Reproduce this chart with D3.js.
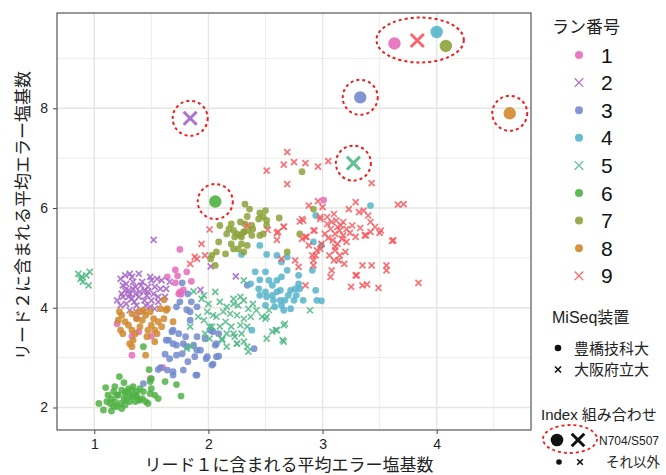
<!DOCTYPE html>
<html><head><meta charset="utf-8">
<script src="https://cdn.jsdelivr.net/npm/d3@7"></script>
<style>
body{margin:0;background:#fff;}
text{font-family:"Liberation Sans","Noto Sans CJK JP",sans-serif;}
.jp{font-family:"Noto Sans CJK JP","Liberation Sans",sans-serif;}
</style></head>
<body>
<svg id="c" width="666" height="475"></svg>
<script>
// ---------- data ----------
const runLabels = ["1","2","3","4","5","6","7","8","9"];
const runColors = ["#e56bbd","#a463c6","#7289cc","#55b4c9","#4fb985","#50b144","#8da23a","#d0882e","#f8575d"];
const runShapes = ["dot","x","dot","dot","x","dot","dot","dot","x"]; // MiSeq device
const xTicks = [1,2,3,4];
const yTicks = [2,4,6,8];
const deviceLabels = ["豊橋技科大","大阪府立大"];
const indexLabels = ["N704/S507","それ以外"];

const run1 = [[1.75,5.17],[1.71,4.76],[1.73,4.64],[1.81,4.72],[1.85,4.53],[1.71,4.50],[1.75,4.32],[1.78,4.36],[1.76,4.27],[1.74,4.28],[1.20,3.68],[1.33,3.43],[1.39,3.52],[1.50,3.43],[1.33,3.05],[1.60,2.80],[1.49,2.58],[1.37,3.80],[3.01,6.16],[1.64,4.62]];
const run2 = [[1.23,4.58],[1.31,4.68],[1.39,4.68],[1.25,4.45],[1.20,4.15],[1.24,4.28],[1.30,4.35],[1.36,4.42],[1.40,4.32],[1.33,4.18],[1.28,4.08],[1.37,4.05],[1.44,4.15],[1.47,4.42],[1.50,4.55],[1.55,4.58],[1.59,4.55],[1.58,4.38],[1.52,4.28],[1.49,4.02],[1.56,4.12],[1.62,4.22],[1.66,4.52],[1.31,3.95],[1.43,3.92],[1.34,4.52],[1.42,4.52],[1.46,4.25],[1.39,4.22],[1.25,4.22],[1.23,4.05],[1.30,4.22],[1.36,4.28],[1.53,4.42],[1.56,4.22],[1.44,4.35],[1.31,4.28],[1.37,3.92],[1.50,4.15],[1.53,3.98],[1.63,4.38],[1.49,4.62],[1.27,4.65],[1.52,5.36],[1.93,4.36],[2.02,4.83],[2.24,4.63],[1.28,4.48],[1.34,4.38],[1.41,4.45],[1.47,4.32],[1.35,4.12],[1.27,4.35],[1.45,4.05],[1.33,4.62]];
const run3 = [[1.63,3.35],[1.68,3.52],[1.69,3.28],[1.72,3.25],[1.62,3.07],[1.66,2.98],[1.72,3.05],[1.77,3.08],[1.81,3.22],[1.82,2.92],[1.88,3.02],[1.90,3.15],[1.78,2.75],[1.69,2.72],[1.69,2.65],[1.56,2.76],[1.58,2.80],[1.89,2.65],[1.98,2.98],[2.04,2.87],[1.43,2.48],[1.72,4.02],[1.75,4.12],[1.77,4.50],[1.82,4.28],[1.85,4.12],[1.84,3.92],[1.90,4.02],[1.69,3.55],[1.74,3.48],[1.80,3.42],[1.65,3.35],[1.78,3.28],[1.81,3.96],[1.84,3.75],[1.99,3.02],[2.03,2.85],[2.09,3.03],[2.07,3.28],[1.93,3.15],[1.87,3.25],[1.90,3.42],[1.97,3.38],[2.02,3.55],[2.09,3.48],[2.40,3.18],[2.34,4.45],[2.04,3.52],[2.06,3.25],[2.07,3.02],[1.64,2.75],[1.90,2.65]];
const run4 = [[2.29,5.07],[2.41,4.72],[2.45,4.56],[2.50,4.72],[2.53,4.55],[2.37,4.48],[2.44,4.38],[2.50,4.32],[2.56,4.45],[2.60,4.55],[2.64,4.62],[2.69,4.75],[2.60,5.05],[2.69,5.02],[2.64,4.92],[2.45,4.25],[2.51,4.22],[2.56,4.25],[2.57,4.15],[2.63,4.15],[2.64,4.05],[2.67,4.15],[2.70,4.25],[2.72,4.35],[2.63,4.35],[2.60,4.32],[2.76,4.38],[2.79,4.48],[2.80,4.38],[2.77,4.25],[2.75,4.15],[2.72,3.98],[2.66,3.95],[2.58,4.02],[2.50,4.05],[2.83,4.15],[2.94,4.35],[2.95,4.15],[2.99,4.14],[2.79,4.65],[2.92,5.32],[2.99,5.25],[2.38,3.55],[2.94,5.85],[3.42,6.05],[2.91,4.75],[2.51,5.07],[2.45,5.25]];
const run5 = [[1.96,4.25],[2.06,4.32],[2.00,4.08],[2.10,4.12],[2.16,4.02],[2.22,4.18],[2.26,4.05],[2.31,4.15],[2.35,3.98],[2.39,4.08],[2.42,3.95],[2.47,3.82],[2.50,3.78],[2.37,3.82],[2.31,3.78],[2.25,3.85],[2.19,3.88],[2.13,3.92],[2.04,3.85],[1.99,3.92],[1.96,3.75],[2.01,3.62],[2.10,3.62],[2.15,3.72],[2.20,3.62],[2.28,3.65],[2.34,3.62],[2.29,3.48],[2.23,3.42],[2.16,3.48],[2.12,3.35],[2.01,3.38],[1.97,3.48],[2.25,3.28],[2.51,3.38],[2.56,3.52],[2.60,3.55],[2.66,3.65],[2.65,3.35],[2.89,3.95],[2.31,4.55],[1.87,4.33],[1.94,4.18],[1.91,3.82],[2.03,3.62],[1.84,3.62],[1.81,3.18],[1.85,3.22],[2.07,3.82],[2.22,4.08],[2.28,4.22],[2.34,3.22],[2.35,3.12],[2.31,3.32],[2.25,3.28],[2.22,3.48],[2.12,3.38],[2.16,3.22],[2.59,3.55],[2.66,3.32],[2.67,3.68],[2.51,3.82],[2.53,3.95],[0.86,4.68],[0.89,4.62],[0.93,4.65],[0.96,4.72],[0.90,4.52],[0.95,4.45],[0.88,4.58]];
const run6 = [[1.04,2.08],[1.08,1.95],[1.15,1.93],[1.10,2.40],[1.18,2.42],[1.22,2.62],[1.26,2.50],[1.24,2.35],[1.21,2.25],[1.27,2.28],[1.30,2.38],[1.34,2.42],[1.37,2.32],[1.33,2.22],[1.28,2.15],[1.23,2.08],[1.20,2.02],[1.24,1.98],[1.26,2.18],[1.15,2.18],[1.12,2.25],[1.17,2.32],[1.14,2.08],[1.31,2.25],[1.36,2.22],[1.40,2.38],[1.43,2.32],[1.42,2.18],[1.45,2.12],[1.47,2.08],[1.49,2.28],[1.50,2.38],[1.53,2.25],[1.56,2.18],[1.49,2.52],[1.50,2.58],[1.48,2.76],[1.40,2.15],[1.36,2.12],[1.18,2.12],[1.17,2.02],[1.20,2.25],[1.28,2.32],[1.33,2.35],[1.37,2.25],[1.39,2.15],[1.31,2.12],[1.27,2.05],[1.11,2.12],[1.62,2.52],[1.72,2.46],[1.76,2.23],[1.43,3.22]];
const run7 = [[2.32,6.08],[2.36,5.98],[2.34,5.83],[2.45,5.90],[2.50,5.95],[2.48,5.82],[2.51,5.75],[2.44,5.78],[2.62,5.80],[2.38,5.65],[2.32,5.68],[2.28,5.72],[2.20,5.68],[2.18,5.58],[2.22,5.55],[2.25,5.48],[2.31,5.52],[2.35,5.55],[2.39,5.58],[2.38,5.45],[2.29,5.42],[2.10,5.65],[2.51,5.65],[2.82,6.73],[2.80,5.48],[2.03,5.05],[2.07,5.12],[2.02,4.98],[2.06,4.85],[2.09,5.32],[2.16,5.48],[2.20,5.28],[2.23,5.42],[2.28,5.45],[2.29,5.28],[2.34,5.25],[2.26,5.18],[2.22,5.18],[2.15,5.08],[2.31,5.52],[2.45,5.45],[2.48,5.48],[2.69,5.12],[2.31,5.12],[2.92,5.98]];
const run8 = [[1.22,3.92],[1.21,3.75],[1.23,3.55],[1.25,3.48],[1.30,3.65],[1.33,3.55],[1.36,3.48],[1.34,3.35],[1.40,3.62],[1.42,3.75],[1.45,3.85],[1.43,3.95],[1.49,3.92],[1.52,3.78],[1.50,3.65],[1.56,3.72],[1.59,3.62],[1.61,3.78],[1.63,3.95],[1.58,3.98],[1.53,3.55],[1.55,3.48],[1.47,3.55],[1.46,3.42],[1.37,3.78],[1.31,3.28],[1.24,3.85],[1.27,3.72],[1.53,3.32],[1.33,3.88],[1.39,3.92],[1.45,3.05],[1.33,3.22],[1.69,3.72],[1.64,3.98],[1.61,4.16]];
const run9 = [[2.69,7.12],[2.66,6.87],[2.75,6.92],[2.85,6.90],[2.96,6.83],[3.05,6.94],[2.51,6.75],[2.69,6.48],[2.88,6.05],[2.96,6.14],[3.43,6.50],[3.29,6.12],[3.23,5.98],[3.32,5.92],[3.36,5.95],[3.40,5.85],[3.42,5.72],[3.10,5.88],[3.04,5.82],[2.98,5.78],[3.08,5.72],[3.18,5.72],[3.13,5.62],[3.07,5.58],[3.15,5.55],[3.21,5.58],[3.18,5.45],[3.11,5.48],[3.29,5.42],[3.37,5.45],[3.51,5.55],[3.50,5.50],[3.42,5.52],[3.62,5.35],[3.66,6.07],[3.71,6.08],[2.99,5.28],[2.98,5.18],[3.13,5.28],[3.21,5.32],[3.11,5.15],[3.15,5.05],[3.14,4.95],[3.08,4.75],[3.35,4.85],[3.43,4.85],[3.56,4.85],[3.56,4.75],[3.29,4.65],[2.94,5.05],[2.92,4.95],[2.85,5.42],[2.92,5.55],[2.82,5.78],[3.20,5.12],[3.25,4.42],[3.35,4.45],[3.39,4.47],[3.49,4.40],[3.84,4.50],[1.94,5.28],[2.60,5.50],[2.86,5.42],[2.64,4.98],[2.76,4.95],[2.79,4.82],[2.95,5.15],[2.92,4.85],[3.07,4.62],[2.85,4.45],[3.11,5.22],[1.88,5.02],[1.84,4.88],[1.97,5.05],[2.01,5.57],[1.90,4.98],[2.34,5.65],[2.60,5.36],[2.66,5.62],[2.82,5.38],[2.91,5.05],[3.10,4.95],[2.52,5.56],[2.61,5.52],[2.66,5.63],[2.80,5.73],[2.83,5.75],[2.93,5.55],[2.98,5.82],[3.04,5.68],[3.26,5.65],[3.17,5.38],[3.05,5.40],[3.46,5.62],[3.12,5.75],[3.61,5.34],[3.38,5.45],[3.30,4.65],[3.02,5.48],[3.09,5.35],[3.16,5.65],[3.24,5.50],[3.33,5.60],[3.06,5.05],[3.19,4.88],[2.88,5.25],[3.00,6.02]];
const runData = [run1,run2,run3,run4,run5,run6,run7,run8,run9];

// N704/S507 index combination (one per run)
const highlightX = [3.63,1.84,3.33,4.00,3.27,2.06,4.08,4.64,3.83];
const highlightY = [9.30,7.80,8.22,9.53,6.90,6.13,9.25,7.90,9.36];
const groupedRuns = [0,3,6,8]; // enclosed together in one dashed ellipse

// ---------- layout ----------
const svg = d3.select("#c");
const P = {l:57, r:531, t:13, b:430};
const x = d3.scaleLinear().domain([0.6732,4.8263]).range([P.l,P.r]);
const y = d3.scaleLinear().domain([1.549,9.911]).range([P.b,P.t]);

// grid
const g = svg.append("g");
const minorX = d3.range(0.5,5,1).filter(v=>v>x.domain()[0]&&v<x.domain()[1]);
const minorY = d3.range(1,10.1,2).filter(v=>v>y.domain()[0]&&v<y.domain()[1]);
g.selectAll(".mx").data(minorX).join("line").attr("x1",d=>x(d)).attr("x2",d=>x(d)).attr("y1",P.t).attr("y2",P.b).attr("stroke","#ededea").attr("stroke-width",1);
g.selectAll(".my").data(minorY).join("line").attr("y1",d=>y(d)).attr("y2",d=>y(d)).attr("x1",P.l).attr("x2",P.r).attr("stroke","#ededea").attr("stroke-width",1);
g.selectAll(".gx").data(xTicks).join("line").attr("x1",d=>x(d)).attr("x2",d=>x(d)).attr("y1",P.t).attr("y2",P.b).attr("stroke","#e6e5e1").attr("stroke-width",1.4);
g.selectAll(".gy").data(yTicks).join("line").attr("y1",d=>y(d)).attr("y2",d=>y(d)).attr("x1",P.l).attr("x2",P.r).attr("stroke","#e6e5e1").attr("stroke-width",1.4);

// axes
const xa = svg.append("g").attr("transform",`translate(0,${P.b})`).call(d3.axisBottom(x).tickValues(xTicks).tickSize(4).tickPadding(5).tickFormat(d3.format("d")));
const ya = svg.append("g").attr("transform",`translate(${P.l},0)`).call(d3.axisLeft(y).tickValues(yTicks).tickSize(4).tickPadding(5).tickFormat(d3.format("d")));
[xa,ya].forEach(a=>{a.select(".domain").remove();a.selectAll("line").attr("stroke","#444");a.selectAll("text").attr("font-size",14).attr("fill","#222").style("font-family","Liberation Sans");});

// panel border
svg.append("rect").attr("x",P.l).attr("y",P.t).attr("width",P.r-P.l).attr("height",P.b-P.t).attr("fill","none").attr("stroke","#555").attr("stroke-width",1.2);

// symbols
function drawSym(sel, shape, cx, cy, s, color, sw, op){
  if(shape==="dot"){
    sel.append("circle").attr("cx",cx).attr("cy",cy).attr("r",s).attr("fill",color).attr("fill-opacity",op);
  } else {
    sel.append("path").attr("d",`M${cx-s},${cy-s}L${cx+s},${cy+s}M${cx-s},${cy+s}L${cx+s},${cy-s}`)
      .attr("stroke",color).attr("stroke-width",sw).attr("stroke-opacity",op).attr("fill","none");
  }
}
const pts = svg.append("g");
runData.forEach((arr,i)=>{
  arr.forEach(p=>{
    if(runShapes[i]==="dot") drawSym(pts,"dot",x(p[0]),y(p[1]),3.4,runColors[i],0,0.85);
    else drawSym(pts,"x",x(p[0]),y(p[1]),3.0,runColors[i],1.7,0.85);
  });
});

// highlighted (N704/S507)
const hl = svg.append("g");
runLabels.forEach((l,i)=>{
  if(runShapes[i]==="dot") drawSym(hl,"dot",x(highlightX[i]),y(highlightY[i]),6.2,runColors[i],0,0.9);
  else drawSym(hl,"x",x(highlightX[i]),y(highlightY[i]),6.5,runColors[i],3,0.9);
});
// dashed circles
const ring = svg.append("g").attr("fill","none").attr("stroke","#ee1c1c").attr("stroke-width",2).attr("stroke-dasharray","3,3");
runLabels.forEach((l,i)=>{
  if(groupedRuns.includes(i)) return;
  ring.append("circle").attr("cx",x(highlightX[i])).attr("cy",y(highlightY[i])).attr("r",17.5);
});
const gx = groupedRuns.map(i=>x(highlightX[i])), gy = groupedRuns.map(i=>y(highlightY[i]));
const ex0=d3.min(gx), ex1=d3.max(gx), ey0=d3.min(gy), ey1=d3.max(gy);
ring.append("ellipse").attr("cx",(ex0+ex1)/2).attr("cy",(ey0+ey1)/2+1).attr("rx",(ex1-ex0)/2+18).attr("ry",22.5);

// axis titles
svg.append("text").attr("class","jp").attr("x",(P.l+P.r)/2-5).attr("y",471).attr("text-anchor","middle").attr("font-size",17).attr("fill","#222").text("リード１に含まれる平均エラー塩基数");
svg.append("text").attr("class","jp").attr("transform",`translate(29,${(P.t+P.b)/2-6}) rotate(-90)`).attr("text-anchor","middle").attr("font-size",17).attr("fill","#222").text("リード２に含まれる平均エラー塩基数");

// legend: run number
const L = svg.append("g");
L.append("text").attr("class","jp").attr("x",552).attr("y",33).attr("font-size",17).attr("fill","#222").text("ラン番号");
runLabels.forEach((l,i)=>{
  const cy = 55 + i*27.6;
  if(runShapes[i]==="dot") drawSym(L,"dot",579,cy,4,runColors[i],0,0.9);
  else drawSym(L,"x",579,cy,4.3,runColors[i],1.3,0.9);
  L.append("text").attr("x",601).attr("y",cy+7.5).attr("font-size",21).attr("fill","#111").text(l);
});
// legend: MiSeq device
L.append("text").attr("x",552).attr("y",323).attr("font-size",16).attr("fill","#222").text("MiSeq装置");
deviceLabels.forEach((l,i)=>{
  const cy = 348 + i*21.5;
  drawSym(L, i===0?"dot":"x", 558, cy, i===0?3.3:3, "#111", 1.6, 1);
  L.append("text").attr("class","jp").attr("x",574).attr("y",cy+5.5).attr("font-size",15).attr("fill","#222").text(l);
});
// legend: index combination
L.append("text").attr("x",541).attr("y",420).attr("font-size",15).attr("fill","#222").text("Index 組み合わせ");
drawSym(L,"dot",557,440,6.3,"#111",0,1);
drawSym(L,"x",578,440,6.3,"#111",3,1);
L.append("ellipse").attr("cx",570).attr("cy",439).attr("rx",27).attr("ry",14).attr("fill","none").attr("stroke","#ee1c1c").attr("stroke-width",1.8).attr("stroke-dasharray","3,3");
L.append("text").attr("x",599).attr("y",444.5).attr("font-size",12).attr("fill","#222").text(indexLabels[0]);
drawSym(L,"dot",559,462,2.8,"#111",0,1);
drawSym(L,"x",580,462,2.8,"#111",1.6,1);
L.append("text").attr("class","jp").attr("x",606).attr("y",467).attr("font-size",13.5).attr("fill","#222").text(indexLabels[1]);
</script>
</body></html>
